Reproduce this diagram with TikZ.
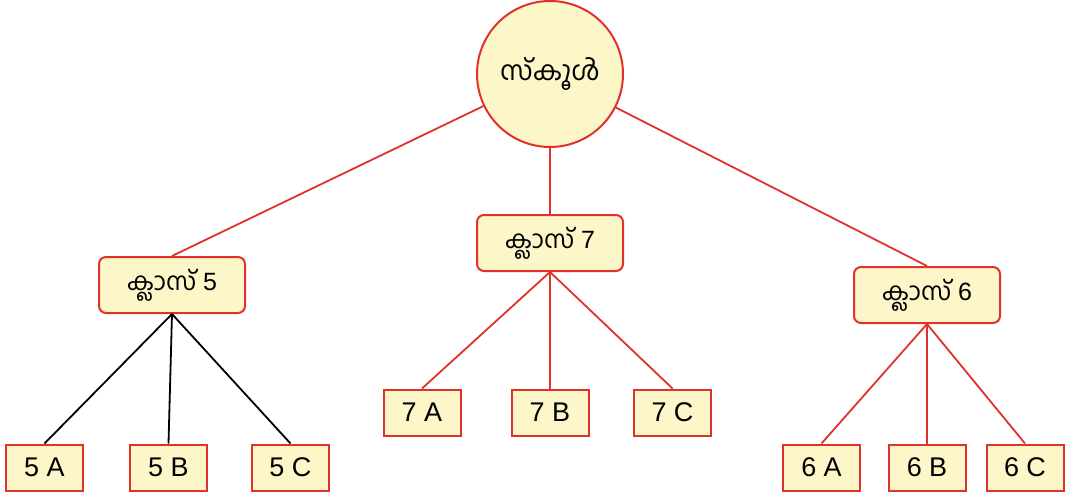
\documentclass[tikz,border=0pt]{standalone}
\usepackage{fontspec}
\setmainfont{Liberation Sans}
\newfontfamily\mal[Script=Malayalam]{Hind Kochi}
\definecolor{boxfill}{HTML}{FCF6C9}
\definecolor{boxred}{HTML}{E0322C}
\begin{document}
\begin{tikzpicture}[x=1pt,y=-1pt,
  rootnode/.style={circle,draw=boxred,fill=boxfill,line width=2pt,minimum size=146pt,inner sep=0pt,font=\fontsize{27}{31}\selectfont},
  classbox/.style={rectangle,rounded corners=7pt,draw=boxred,fill=boxfill,line width=2pt,minimum width=146pt,minimum height=56pt,inner sep=0pt,font=\fontsize{25}{29}\selectfont},
  leafbox/.style={rectangle,draw=boxred,fill=boxfill,line width=2pt,minimum width=77pt,minimum height=46pt,inner sep=0pt,font=\fontsize{27}{31}\selectfont},
  redline/.style={draw=boxred,line width=1.8pt},
  blackline/.style={draw=black,line width=1.8pt}]
\useasboundingbox (0,0) rectangle (1067,492);
\node[rootnode] (root) at (550,74) {\mal സ്കൂൾ};
\node[classbox] (c5) at (172,285) {{\mal ക്ലാസ്} 5};
\node[classbox] (c7) at (550,243) {{\mal ക്ലാസ്} 7};
\node[classbox] (c6) at (927,295) {{\mal ക്ലാസ്} 6};
\node[leafbox] (a5) at (44.5,467.5) {5 A};
\node[leafbox] (b5) at (168.5,467.5) {5 B};
\node[leafbox] (cc5) at (290.5,467.5) {5 C};
\node[leafbox] (a7) at (422,412.5) {7 A};
\node[leafbox] (b7) at (550,412.5) {7 B};
\node[leafbox] (cc7) at (672.5,412.5) {7 C};
\node[leafbox] (a6) at (821.5,467.5) {6 A};
\node[leafbox] (b6) at (927,467.5) {6 B};
\node[leafbox] (cc6) at (1025,467.5) {6 C};
\path[redline] (root) -- (c5.north);
\path[redline] (root) -- (c7.north);
\path[redline] (root) -- (c6.north);
\path[blackline] (c5.south) -- (a5.north);
\path[blackline] (c5.south) -- (b5.north);
\path[blackline] (c5.south) -- (cc5.north);
\path[redline] (c7.south) -- (a7.north);
\path[redline] (c7.south) -- (b7.north);
\path[redline] (c7.south) -- (cc7.north);
\path[redline] (c6.south) -- (a6.north);
\path[redline] (c6.south) -- (b6.north);
\path[redline] (c6.south) -- (cc6.north);
\end{tikzpicture}
\end{document}
